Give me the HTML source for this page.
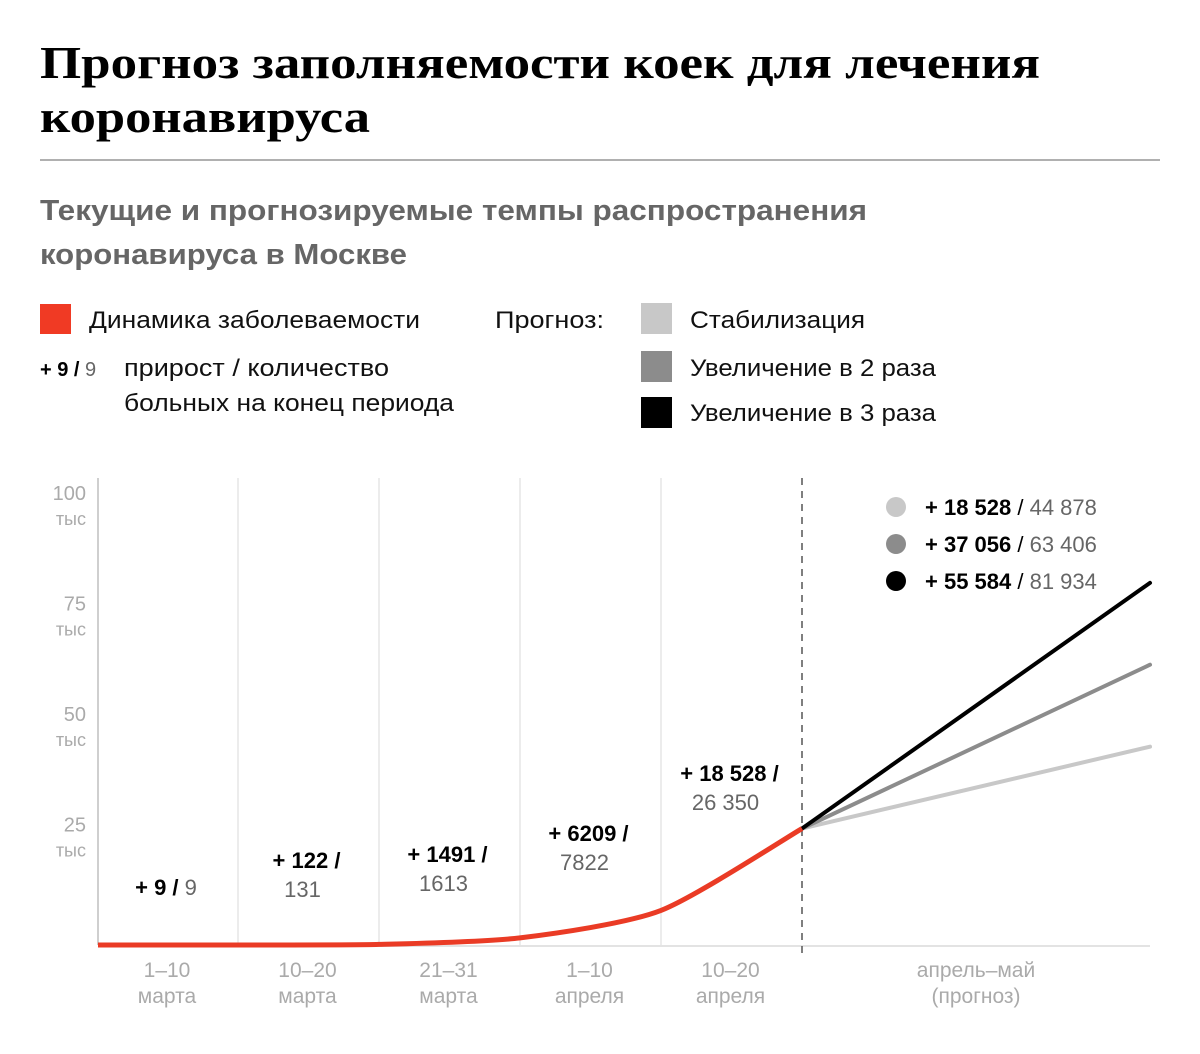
<!DOCTYPE html>
<html><head><meta charset="utf-8"><style>
html,body{margin:0;padding:0;background:#fff;width:1200px;height:1054px;overflow:hidden}
text{font-family:"Liberation Sans",sans-serif}
.ser{font-family:"Liberation Serif",serif}
</style></head><body>
<svg id="chart" width="1200" height="1054" xmlns="http://www.w3.org/2000/svg">
<text class="ser" x="40" y="78" font-size="46" font-weight="bold" textLength="1000" lengthAdjust="spacingAndGlyphs">Прогноз заполняемости коек для лечения</text>
<text class="ser" x="40" y="132" font-size="46" font-weight="bold" textLength="330" lengthAdjust="spacingAndGlyphs">коронавируса</text>
<rect x="40" y="159" width="1120" height="2" fill="#b0b0b0"/>
<text x="40" y="220" font-size="29" font-weight="bold" fill="#666" textLength="827" lengthAdjust="spacingAndGlyphs">Текущие и прогнозируемые темпы распространения</text>
<text x="40" y="264" font-size="29" font-weight="bold" fill="#666" textLength="367" lengthAdjust="spacingAndGlyphs">коронавируса в Москве</text>

<rect x="40" y="304" width="31" height="30" fill="#f03a24"/>
<text x="89" y="328" font-size="24" fill="#111" textLength="331" lengthAdjust="spacingAndGlyphs">Динамика заболеваемости</text>
<text x="495" y="328" font-size="24" fill="#111" textLength="109" lengthAdjust="spacingAndGlyphs">Прогноз:</text>
<rect x="641" y="303" width="31" height="31" fill="#c8c8c8"/>
<text x="690" y="328" font-size="24" fill="#111" textLength="175" lengthAdjust="spacingAndGlyphs">Стабилизация</text>
<rect x="641" y="351" width="31" height="31" fill="#8c8c8c"/>
<text x="690" y="376" font-size="24" fill="#111" textLength="246" lengthAdjust="spacingAndGlyphs">Увеличение в 2 раза</text>
<rect x="641" y="397" width="31" height="31" fill="#000"/>
<text x="690" y="421" font-size="24" fill="#111" textLength="246" lengthAdjust="spacingAndGlyphs">Увеличение в 3 раза</text>
<text x="40" y="376" font-size="20"><tspan font-weight="bold">+ 9 /</tspan><tspan fill="#666"> 9</tspan></text>
<text x="124" y="376" font-size="24" fill="#111" textLength="265" lengthAdjust="spacingAndGlyphs">прирост / количество</text>
<text x="124" y="411" font-size="24" fill="#111" textLength="330" lengthAdjust="spacingAndGlyphs">больных на конец периода</text>
<g id="plot"></g>
</svg>
<script>
const categories = ["1–10|марта","10–20|марта","21–31|марта","1–10|апреля","10–20|апреля","апрель–май|(прогноз)"];
const totals = [0, 9, 131, 1613, 7822, 26350];
const increments = ["9","122","1491","6209","18 528"];
const endTotals = ["9","131","1613","7822","26 350"];
const forecastValues = [44878, 63406, 81934];
const forecastIncrements = ["18 528","37 056","55 584"];
const forecastTotals = ["44 878","63 406","81 934"];
const forecastColors = ["#c8c8c8","#8c8c8c","#000"];
const yTicks = [25000, 50000, 75000, 100000];
const yTickLabels = ["25","50","75","100"];

const NS="http://www.w3.org/2000/svg";
const g=document.getElementById('plot');
const baseY=945, pxPer=4.42/1000;
const y=v=>baseY - v*pxPer;
const bounds=[98,238,379,520,661,802,1150];
const xb=i=>bounds[i];
function mk(t,a,p){const e=document.createElementNS(NS,t);for(const k in a)e.setAttribute(k,a[k]);(p||g).appendChild(e);return e;}

// grid
for(let i=1;i<=4;i++){
  const l=mk('line',{x1:xb(i),x2:xb(i),y1:478,y2:baseY,stroke:'#e6e6e6','stroke-width':1.5});
  
  
}
const ax=mk('line',{x1:98,x2:98,y1:478,y2:baseY,stroke:'#cfcfcf','stroke-width':2});


const bl=mk('line',{x1:98,x2:1150,y1:baseY+1,y2:baseY+1,stroke:'#e3e3e3','stroke-width':2});


const dl=mk('line',{x1:802,x2:802,y1:478,y2:baseY+8,stroke:'#555','stroke-width':1.5,'stroke-dasharray':'7,6'});



// y ticks
yTicks.forEach((v,i)=>{
  const t=mk('text',{x:86,y:y(v)-3,'text-anchor':'end','font-size':20,fill:'#aaa'});t.textContent=yTickLabels[i];
  
  
  const u=mk('text',{x:86,y:y(v)+22,'text-anchor':'end','font-size':18,fill:'#aaa'});u.textContent='тыс';
  
  
});

// x labels
categories.forEach((c,i)=>{
  const cx=(xb(i)+xb(i+1))/2+(i<5?-1:0);
  const [a,b]=c.split('|');
  const t=mk('text',{x:cx,y:977,'text-anchor':'middle','font-size':21,fill:'#aaa'});t.textContent=a;
  
  
  const t2=mk('text',{x:cx,y:1003,'text-anchor':'middle','font-size':21,fill:'#aaa'});t2.textContent=b;
  
  
});

// forecast lines
forecastValues.forEach((v,i)=>{
  const l=mk('line',{x1:802,y1:y(totals[5]),x2:1150,y2:y(v),stroke:forecastColors[i],'stroke-width':4,'stroke-linecap':'round'});
  
  
});

// red line (smooth)
const pts=totals.map((v,i)=>[xb(i),y(v)]);
let d='M'+pts[0][0]+','+pts[0][1];
for(let i=0;i<pts.length-1;i++){
  const p0=pts[Math.max(0,i-1)],p1=pts[i],p2=pts[i+1],p3=pts[Math.min(pts.length-1,i+2)];
  const k=0.12;
  const c1=[p1[0]+(p2[0]-p0[0])*k,p1[1]+(p2[1]-p0[1])*k];
  const c2=[p2[0]-(p3[0]-p1[0])*k,p2[1]-(p3[1]-p1[1])*k];
  d+=` C${c1[0]},${c1[1]} ${c2[0]},${c2[1]} ${p2[0]},${p2[1]}`;
}
const rl=mk('path',{d:d,fill:'none',stroke:'#ea3b25','stroke-width':5,'stroke-linejoin':'round'});



// annotations
increments.forEach((inc,i)=>{
  const cx=(xb(i)+xb(i+1))/2-2;
  const top=y(totals[i+1])-50;
  if(i===0){
    const t=mk('text',{x:cx,y:895,'text-anchor':'middle','font-size':22});
    t.innerHTML='<tspan font-weight="bold">+ '+inc+' /</tspan><tspan fill="#666"> '+endTotals[i]+'</tspan>';
    
    
  } else {
    const by=Math.min(top,868);
    const yy = [0,868,862,841,781][i];
    const t=mk('text',{x:cx,y:yy,'text-anchor':'middle','font-size':22,'font-weight':'bold'});t.textContent='+ '+inc+' /';
    
    
    const t2=mk('text',{x:cx-4,y:yy+29,'text-anchor':'middle','font-size':22,fill:'#666'});t2.textContent=endTotals[i];
    
    
  }
});

// forecast legend
forecastIncrements.forEach((inc,i)=>{
  const cy=507+i*37;
  const c=mk('circle',{cx:896,cy:cy,r:10,fill:forecastColors[i]});
  
  
  const t=mk('text',{x:925,y:cy+8,'font-size':22});
  t.innerHTML='<tspan font-weight="bold">+ '+inc+'</tspan> / <tspan fill="#666">'+forecastTotals[i]+'</tspan>';
  
  
});
</script>
</body></html>
